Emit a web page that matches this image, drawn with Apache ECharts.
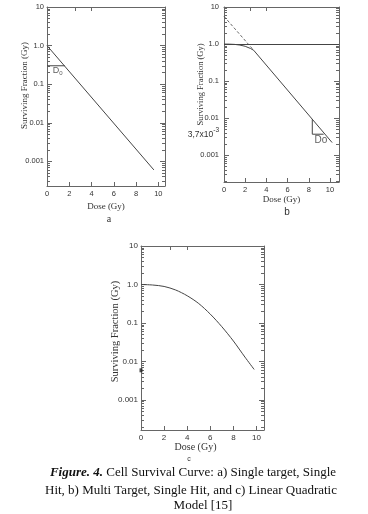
<!DOCTYPE html>
<html><head><meta charset="utf-8">
<script src="https://cdn.jsdelivr.net/npm/echarts@6/dist/echarts.min.js"></script>
<style>html,body{margin:0;padding:0;background:#fff}#c{width:368px;height:514px}</style>
</head><body><div id="c"></div><script>
// ---- data ----
const doseA = [0, 9.6];
const survA = [1.0, 0.0006];
const d0DoseA = [0, 1.6];
const d0SurvA = [0.3, 0.3];

const doseB = [0, 0.5, 1, 1.5, 2, 2.5, 2.8, 10.2];
const survB = [1.0, 0.995, 0.98, 0.94, 0.87, 0.76, 0.68, 0.0022];
const extrapDoseB = [0, 2.8];
const extrapSurvB = [5.6, 0.68];
const triDoseB = [8.33, 8.33, 9.4];
const triSurvB = [0.0094, 0.0037, 0.0037];

const doseC = [0, 1, 2, 3, 4, 5, 6, 7, 8, 9, 9.8];
const survC = [1.0, 0.97, 0.89, 0.72, 0.51, 0.32, 0.17, 0.08, 0.034, 0.013, 0.0062];

const xTicks = [0, 2, 4, 6, 8, 10];
const topTicks = [2.5, 4];
const yMajor = [0.001, 0.01, 0.1, 1, 10];
const yTickLabels = ['0.001', '0.01', '0.1', '1.0', '10'];

// ---- helpers ----
const pairs = (xs, ys) => xs.map((x, i) => [x, ys[i]]);
const minor = [];
for (let e = -4; e < 1; e++) for (let m = 2; m <= 9; m++) minor.push(+(m * Math.pow(10, e)).toPrecision(3));

const AX = '#666', TX = '#333', LN = '#444';
const SANS = 'Liberation Sans', SERIF = 'Liberation Serif';

function yLabel(v) {
  for (let i = 0; i < yMajor.length; i++) if (Math.abs(Math.log10(v) - Math.log10(yMajor[i])) < 1e-6) return yTickLabels[i];
  if (Math.abs(v - 0.0037) < 1e-6) return '{m|3,7x10}{s|-3}';
  return '';
}

function yAxes(gi, min, o) {
  const base = { type: 'log', gridIndex: gi, min: min, max: 10, splitLine: { show: false }, axisPointer: { show: false } };
  return [
    Object.assign({}, base, {
      position: 'left',
      axisLine: { show: true, lineStyle: { color: AX, width: 1 } },
      axisTick: { show: true, inside: true, length: 5, customValues: yMajor, lineStyle: { color: AX } },
      axisLabel: { show: true, customValues: o.labelValues, formatter: yLabel, fontFamily: SANS, fontSize: o.fs, color: TX, margin: o.margin,
        rich: { m: { fontFamily: SANS, fontSize: 8.5, color: TX }, s: { fontFamily: SANS, fontSize: 6.5, color: TX, verticalAlign: 'bottom', padding: [0, 0, 8, 0] } } },
      name: 'Surviving Fraction (Gy)', nameLocation: 'middle', nameRotate: 90, nameGap: o.nameGap, nameMoveOverlap: false,
      nameTextStyle: { fontFamily: SERIF, fontSize: o.nfs, color: TX, padding: [0, 0, 0, o.shift] }
    }),
    Object.assign({}, base, {
      position: 'left', axisLine: { show: false },
      axisTick: { show: true, inside: true, length: 3, customValues: minor, lineStyle: { color: AX } },
      axisLabel: { show: false }
    }),
    Object.assign({}, base, {
      position: 'right', axisLine: { show: true, lineStyle: { color: AX, width: 1 } },
      axisTick: { show: true, inside: true, length: 5, customValues: yMajor, lineStyle: { color: AX } },
      axisLabel: { show: false }
    }),
    Object.assign({}, base, {
      position: 'right', axisLine: { show: false },
      axisTick: { show: true, inside: true, length: 3, customValues: minor, lineStyle: { color: AX } },
      axisLabel: { show: false }
    })
  ];
}

function xAxes(gi, max, o) {
  return [
    { type: 'value', gridIndex: gi, position: 'bottom', min: 0, max: max, interval: 2, splitLine: { show: false },
      axisLine: { show: true, lineStyle: { color: AX, width: 1 } },
      axisTick: { show: true, inside: true, length: 4, customValues: xTicks, lineStyle: { color: AX } },
      axisLabel: { customValues: xTicks, fontFamily: SANS, fontSize: o.fs, color: TX, margin: o.margin },
      name: 'Dose (Gy)', nameLocation: 'middle', nameGap: o.nameGap, nameMoveOverlap: false,
      nameTextStyle: { fontFamily: SERIF, fontSize: o.nfs, color: TX, padding: o.npad || 0 } },
    { type: 'value', gridIndex: gi, position: 'top', min: 0, max: max, interval: 2, splitLine: { show: false },
      axisLine: { show: true, lineStyle: { color: AX, width: 1 } },
      axisTick: { show: true, inside: true, length: 4, customValues: topTicks, lineStyle: { color: AX } },
      axisLabel: { show: false } }
  ];
}

const lineS = (xi, yi, data, extra) => Object.assign({
  type: 'line', xAxisIndex: xi, yAxisIndex: yi, data: data, symbol: 'none', silent: true,
  lineStyle: { color: LN, width: 1 }, animation: false
}, extra || {});

const option = {
  animation: false,
  grid: [
    { left: 47, top: 7, width: 118, height: 179 },
    { left: 224, top: 7, width: 115, height: 175 },
    { left: 141, top: 246, width: 123, height: 184 }
  ],
  xAxis: [].concat(
    xAxes(0, 10.6, { fs: 7.5, margin: 4, nameGap: 16, nfs: 9 }),
    xAxes(1, 10.85, { fs: 7.5, margin: 4, nameGap: 13, nfs: 9 }),
    xAxes(2, 10.65, { fs: 8, margin: 4, nameGap: 12, nfs: 10, npad: [0, 14, 0, 0] })
  ),
  yAxis: [].concat(
    yAxes(0, 0.00023, { fs: 7.5, margin: 3, nameGap: 18, nfs: 9, shift: 22, labelValues: yMajor }),
    yAxes(1, 0.00019, { fs: 7.5, margin: 5, nameGap: 19, nfs: 8.5, shift: 20, labelValues: yMajor.concat([0.0037]) }),
    yAxes(2, 0.000166, { fs: 8, margin: 3, nameGap: 20, nfs: 10.5, shift: 13, labelValues: yMajor })
  ),
  title: [
    { text: 'a', left: 104, top: 209, textAlign: 'center', textStyle: { fontFamily: SERIF, fontSize: 10, fontWeight: 'normal', color: TX } },
    { text: 'b', left: 282, top: 202, textAlign: 'center', textStyle: { fontFamily: SANS, fontSize: 10, fontWeight: 'normal', color: TX } },
    { text: 'c', left: 184, top: 451, textAlign: 'center', textStyle: { fontFamily: SANS, fontSize: 7, fontWeight: 'normal', color: TX } },
    { text: '{bi|Figure. 4.} Cell Survival Curve: a) Single target, Single', left: 188, top: 461, textAlign: 'center',
      textStyle: { fontFamily: SERIF, fontSize: 13, fontWeight: 'normal', color: '#111', rich: { bi: { fontFamily: SERIF, fontSize: 13, fontStyle: 'italic', fontWeight: 'bold', color: '#111' } } } },
    { text: 'Hit, b) Multi Target, Single Hit, and c) Linear Quadratic', left: 186, top: 479, textAlign: 'center',
      textStyle: { fontFamily: SERIF, fontSize: 13, fontWeight: 'normal', color: '#111' } },
    { text: 'Model [15]', left: 198, top: 494, textAlign: 'center',
      textStyle: { fontFamily: SERIF, fontSize: 13, fontWeight: 'normal', color: '#111' } }
  ],
  series: [
    // chart a
    lineS(0, 0, pairs(doseA, survA)),
    lineS(0, 0, pairs(d0DoseA, d0SurvA)),
    { type: 'scatter', xAxisIndex: 0, yAxisIndex: 0, symbolSize: 0, silent: true, data: [[0.95, 0.22]],
      label: { show: true, position: 'inside', formatter: '{d|D}{s|0}', rich: { d: { fontFamily: SANS, fontSize: 9, color: TX }, s: { fontFamily: SANS, fontSize: 6, color: TX, verticalAlign: 'top', padding: [5, 0, 0, 0] } } } },
    // chart b
    lineS(2, 4, pairs(doseB, survB), {
      markLine: { silent: true, symbol: 'none', label: { show: false }, lineStyle: { color: LN, width: 1, type: 'solid' }, data: [{ yAxis: 1 }] }
    }),
    lineS(2, 4, pairs(extrapDoseB, extrapSurvB), { lineStyle: { color: LN, width: 0.8, type: [3, 2] } }),
    lineS(2, 4, pairs(triDoseB, triSurvB)),
    { type: 'scatter', xAxisIndex: 2, yAxisIndex: 4, symbolSize: 0, silent: true, data: [[9.15, 0.0025]],
      label: { show: true, position: 'inside', formatter: 'Do', fontFamily: SANS, fontSize: 10, color: TX } },
    // chart c
    lineS(4, 8, pairs(doseC, survC), { smooth: 0.3 }),
    { type: 'scatter', xAxisIndex: 4, yAxisIndex: 8, symbol: 'rect', symbolSize: [3, 4], silent: true, data: [[0, 0.0059]], itemStyle: { color: '#222' } }
  ]
};
echarts.init(document.getElementById('c')).setOption(option);
</script></body></html>
